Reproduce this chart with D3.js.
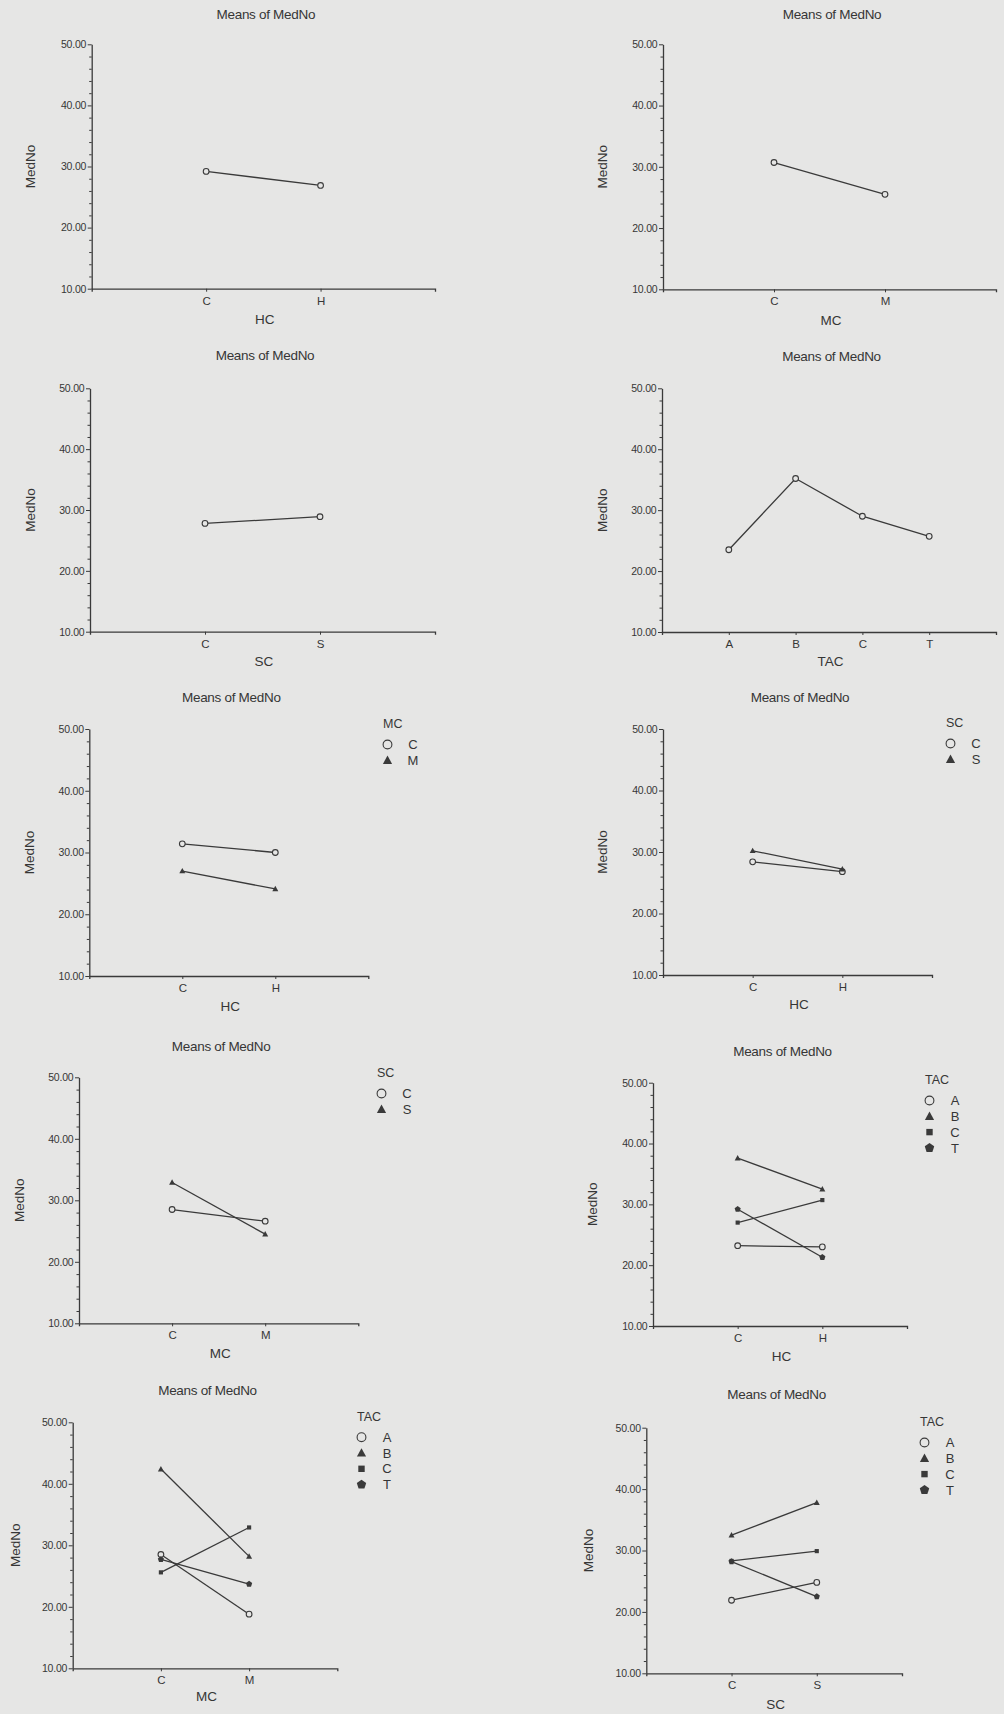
<!DOCTYPE html>
<html>
<head>
<meta charset="utf-8">
<script src="https://cdn.jsdelivr.net/npm/d3@7"></script>
<style>
  html, body { margin: 0; padding: 0; background: #e6e6e5; }
  svg { display: block; }
  text { font-family: "Liberation Sans", Arial, sans-serif; fill: #363636; }
</style>
</head>
<body>
<svg id="chart" width="1004" height="1714"></svg>
<script>
// ---------- data ----------
const chartTitle = "Means of MedNo";
const yTitle = "MedNo";
const yTickValues = [10, 20, 30, 40, 50];
const yMinorValues = [12, 14, 16, 18, 22, 24, 26, 28, 32, 34, 36, 38, 42, 44, 46, 48];

const hcCats = ["C", "H"];
const mcCats = ["C", "M"];
const scCats = ["C", "S"];
const tacCats = ["A", "B", "C", "T"];

// single-factor means
const meansHC = [29.2, 26.9];
const meansMC = [30.7, 25.5];
const meansSC = [27.8, 28.9];
const meansTAC = [23.5, 35.2, 29.0, 25.7];

// two-factor means (rows: legend factor levels, columns: x categories)
const hcByMC_C = [31.4, 30.0];
const hcByMC_M = [27.0, 24.1];

const hcBySC_C = [28.4, 26.8];
const hcBySC_S = [30.2, 27.2];

const mcBySC_C = [28.5, 26.6];
const mcBySC_S = [32.9, 24.5];

const hcByTAC_A = [23.2, 23.0];
const hcByTAC_B = [37.6, 32.5];
const hcByTAC_C = [27.0, 30.7];
const hcByTAC_T = [29.2, 21.3];

const mcByTAC_A = [28.5, 18.8];
const mcByTAC_B = [42.4, 28.2];
const mcByTAC_C = [25.6, 32.9];
const mcByTAC_T = [27.7, 23.7];

const scByTAC_A = [21.9, 24.8];
const scByTAC_B = [32.5, 37.8];
const scByTAC_C = [28.3, 29.9];
const scByTAC_T = [28.2, 22.5];

// marker shape per legend level position
const shapes = ["circle", "triangle", "square", "pentagon"];

// ---------- panel definitions (data + layout box) ----------
const panels = [
  { xName: "HC", cats: hcCats, series: [{ name: null, v: meansHC }],
    box: { x0: 91.7, x1: 435, y50: 44.3, y10: 288.7, tY: 14, xtY: 319, ytX: 30.7 } },
  { xName: "MC", cats: mcCats, series: [{ name: null, v: meansMC }],
    box: { x0: 663, x1: 996, y50: 44.3, y10: 289.3, tY: 14, xtY: 320, ytX: 602 } },
  { xName: "SC", cats: scCats, series: [{ name: null, v: meansSC }],
    box: { x0: 90, x1: 435, y50: 388.3, y10: 631.7, tY: 355, xtY: 661.7, ytX: 30 } },
  { xName: "TAC", cats: tacCats, series: [{ name: null, v: meansTAC }],
    box: { x0: 662, x1: 996, y50: 388.3, y10: 632, tY: 356, xtY: 661, ytX: 602 } },
  { xName: "HC", legendName: "MC",
    series: [{ name: "C", v: hcByMC_C }, { name: "M", v: hcByMC_M }], cats: hcCats,
    box: { x0: 89.3, x1: 368.3, y50: 729, y10: 976, tY: 697.3, xtY: 1006, ytX: 29.3, lx: 383, ly: 724 } },
  { xName: "HC", legendName: "SC",
    series: [{ name: "C", v: hcBySC_C }, { name: "S", v: hcBySC_S }], cats: hcCats,
    box: { x0: 663, x1: 932, y50: 729, y10: 975, tY: 697.3, xtY: 1004, ytX: 602, lx: 946, ly: 723 } },
  { xName: "MC", legendName: "SC",
    series: [{ name: "C", v: mcBySC_C }, { name: "S", v: mcBySC_S }], cats: mcCats,
    box: { x0: 79, x1: 358.3, y50: 1077.3, y10: 1323.3, tY: 1046, xtY: 1353.3, ytX: 19.3, lx: 377, ly: 1073 } },
  { xName: "HC", legendName: "TAC",
    series: [{ name: "A", v: hcByTAC_A }, { name: "B", v: hcByTAC_B }, { name: "C", v: hcByTAC_C }, { name: "T", v: hcByTAC_T }], cats: hcCats,
    box: { x0: 653, x1: 907, y50: 1082.7, y10: 1326, tY: 1051, xtY: 1356.7, ytX: 592.7, lx: 925, ly: 1080 } },
  { xName: "MC", legendName: "TAC",
    series: [{ name: "A", v: mcByTAC_A }, { name: "B", v: mcByTAC_B }, { name: "C", v: mcByTAC_C }, { name: "T", v: mcByTAC_T }], cats: mcCats,
    box: { x0: 72.7, x1: 337.3, y50: 1422.3, y10: 1668.3, tY: 1390, xtY: 1696, ytX: 15, lx: 357, ly: 1416.7 } },
  { xName: "SC", legendName: "TAC",
    series: [{ name: "A", v: scByTAC_A }, { name: "B", v: scByTAC_B }, { name: "C", v: scByTAC_C }, { name: "T", v: scByTAC_T }], cats: scCats,
    box: { x0: 646.3, x1: 902, y50: 1427.7, y10: 1673.3, tY: 1394.3, xtY: 1704.3, ytX: 588, lx: 920, ly: 1422 } }
];

// ---------- drawing ----------
const svg = d3.select("#chart");
const ink = "#3a3a3a";

function marker(g, shape, cx, cy, s, bg) {
  if (shape === "circle") {
    g.append("circle").attr("cx", cx).attr("cy", cy).attr("r", s * 0.55)
      .attr("fill", bg).attr("stroke", ink).attr("stroke-width", 1.1);
  } else if (shape === "triangle") {
    const h = s * 1.0, w = s * 1.15;
    g.append("path")
      .attr("d", `M${cx},${cy - h * 0.6}L${cx + w / 2},${cy + h * 0.45}L${cx - w / 2},${cy + h * 0.45}Z`)
      .attr("fill", ink);
  } else if (shape === "square") {
    const a = s * 0.8;
    g.append("rect").attr("x", cx - a / 2).attr("y", cy - a / 2).attr("width", a).attr("height", a)
      .attr("fill", ink);
  } else if (shape === "pentagon") {
    const r = s * 0.62;
    const pts = d3.range(5).map(i => {
      const ang = -Math.PI / 2 + i * 2 * Math.PI / 5;
      return [cx + r * Math.cos(ang), cy + r * Math.sin(ang)];
    });
    g.append("path").attr("d", "M" + pts.map(p => p.join(",")).join("L") + "Z").attr("fill", ink);
  }
}

panels.forEach(p => {
  const b = p.box;
  const g = svg.append("g");
  const x = d3.scalePoint().domain(p.cats).range([b.x0, b.x1]).padding(1);
  const y = d3.scaleLinear().domain([10, 50]).range([b.y10, b.y50]);

  // minor y ticks
  const minor = g.append("g").attr("transform", `translate(${b.x0},0)`)
    .call(d3.axisLeft(y).tickValues(yMinorValues).tickSize(2.5).tickSizeOuter(0).tickFormat(""));
  minor.select(".domain").remove();
  minor.selectAll("line").attr("stroke", ink).attr("stroke-width", 1);

  // major y axis
  const ya = g.append("g").attr("transform", `translate(${b.x0},0)`)
    .call(d3.axisLeft(y).tickValues(yTickValues).tickSize(4).tickSizeOuter(0).tickPadding(1.5).tickFormat(d3.format(".2f")));
  ya.select(".domain").attr("stroke", ink).attr("stroke-width", 1.3);
  ya.selectAll("line").attr("stroke", ink).attr("stroke-width", 1);
  ya.selectAll("text").attr("font-size", 10.5).attr("letter-spacing", "-0.2px")
    .style("font-family", '"Liberation Sans", Arial, sans-serif').attr("fill", "#363636");

  // x axis
  const xa = g.append("g").attr("transform", `translate(0,${b.y10})`)
    .call(d3.axisBottom(x).tickSize(3).tickSizeOuter(3).tickPadding(5));
  xa.select(".domain").attr("stroke", ink).attr("stroke-width", 1.3);
  xa.selectAll("line").attr("stroke", ink).attr("stroke-width", 1);
  xa.selectAll("text").attr("font-size", 11.5)
    .style("font-family", '"Liberation Sans", Arial, sans-serif').attr("fill", "#363636");

  // titles
  const cx = (b.x0 + b.x1) / 2 + 2.5;
  g.append("text").attr("x", cx).attr("y", b.tY).attr("dy", "0.35em")
    .attr("text-anchor", "middle").attr("font-size", 13.5).attr("letter-spacing", "-0.3px").text(chartTitle);
  g.append("text").attr("x", cx - 1).attr("y", b.xtY).attr("dy", "0.35em")
    .attr("text-anchor", "middle").attr("font-size", 13.5).text(p.xName);
  g.append("text").attr("transform", `translate(${b.ytX},${(b.y10 + b.y50) / 2}) rotate(-90)`)
    .attr("dy", "0.35em").attr("text-anchor", "middle").attr("font-size", 13.5).text(yTitle);

  // lines + markers
  const line = d3.line().x((d, i) => x(p.cats[i])).y(d => y(d));
  p.series.forEach((s, si) => {
    g.append("path").datum(s.v).attr("d", line)
      .attr("fill", "none").attr("stroke", ink).attr("stroke-width", 1.3);
  });
  p.series.forEach((s, si) => {
    s.v.forEach((v, i) => marker(g, shapes[si], x(p.cats[i]), y(v), 5.2, "#e6e6e5"));
  });

  // legend
  if (p.legendName) {
    const lg = g.append("g");
    lg.append("text").attr("x", b.lx).attr("y", b.ly).attr("dy", "0.35em")
      .attr("font-size", 12.5).text(p.legendName);
    p.series.forEach((s, si) => {
      const ry = b.ly + 20.5 + si * 15.8;
      marker(lg, shapes[si], b.lx + 4.5, ry, 8, "#e6e6e5");
      lg.append("text").attr("x", b.lx + 30).attr("y", ry).attr("dy", "0.36em")
        .attr("text-anchor", "middle").attr("font-size", 13).text(s.name);
    });
  }
});
</script>
</body>
</html>
